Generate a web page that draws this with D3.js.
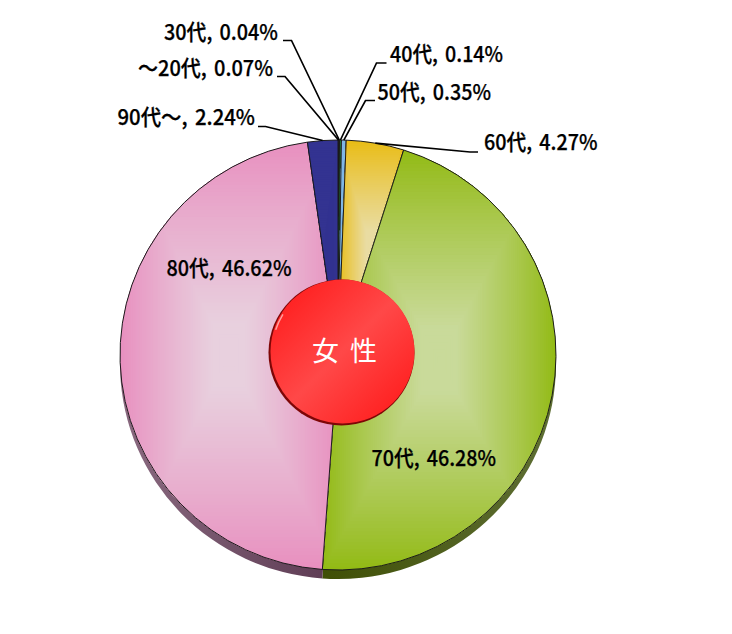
<!DOCTYPE html>
<html>
<head>
<meta charset="utf-8">
<script src="https://cdn.jsdelivr.net/npm/d3@7"></script>
<style>
html, body { margin: 0; padding: 0; background: #fff; }
svg { display: block; }
text { font-family: "Noto Sans CJK JP", sans-serif; }
</style>
</head>
<body>
<div id="chart"></div>
<script>
/* data, clockwise from 12 o'clock */
var ages = ["～20代", "30代", "40代", "50代", "60代", "70代", "80代", "90代～"];
var shares = [0.07, 0.04, 0.14, 0.35, 4.27, 46.28, 46.62, 2.24];
var centerLabel = "女 性";

/* colours */
var edgeColors = ["#6a2a80", "#1a1a1a", "#1f8a3a", "#7fb6e6", "#e9bc14", "#92ba14", "#e88fbf", "#333391"];
var midColors = ["#6a2a80", "#1a1a1a", "#1f8a3a", "#7fb6e6", "#e9dca2", "#c9da9a", "#e8d0de", "#333391"];
var sideLeft = ["#333", "#333", "#333", "#333", "#5c4a10", "#3f4f05", "#8a6a80", "#22224a"];
var sideRight = ["#333", "#333", "#333", "#333", "#5c4a10", "#5f6f35", "#5c3a52", "#22224a"];

/* label placement: text x, baseline, width, leader elbow and stub end */
var labelX = [138, 164, 390, 377.5, 484, 371.5, 166.5, 117.5];
var labelY = [76, 40, 62, 100, 150, 466, 276, 125];
var labelW = [135, 114, 113, 113.5, 113.5, 124.5, 125, 137.5];
var elbowX = [285, 291.5, 376.5, 365.5, 470, null, null, 265.5];
var elbowY = [76.5, 40.5, 63, 100.5, 152, null, null, 126.5];
var stubX = [277, 283, 386.5, 375, 478, null, null, 258];

var width = 732, height = 634;
var cx = 338, cy = 355, rx = 218, ry = 215, depth = 9;

var svg = d3.select("#chart").append("svg")
  .attr("width", width)
  .attr("height", height);
var defs = svg.append("defs");

var pie = d3.pie().sort(null).value(d => d)(shares);
var arc = d3.arc().innerRadius(0).outerRadius(rx);
var yScale = ry / rx;
var pieTransform = "translate(" + cx + "," + cy + ") scale(1," + yScale + ")";

/* side wall */
pie.forEach(function (d, i) {
  var g = defs.append("linearGradient").attr("id", "side" + i);
  g.append("stop").attr("offset", 0).attr("stop-color", sideLeft[i]);
  g.append("stop").attr("offset", 1).attr("stop-color", sideRight[i]);
});
svg.append("g")
  .attr("transform", "translate(" + cx + "," + (cy + depth) + ") scale(1," + yScale + ")")
  .selectAll("path")
  .data(pie)
  .enter().append("path")
  .attr("d", arc)
  .attr("fill", (d, i) => "url(#side" + i + ")");

/* slices: Excel style box gradient, nested rects clipped to each wedge */
var pieG = svg.append("g").attr("transform", pieTransform);
var steps = 60;

pie.forEach(function (d, i) {
  defs.append("clipPath").attr("id", "clip" + i)
    .append("path").attr("d", arc(d));

  var outline = pieG.append("path").attr("d", arc(d)).attr("fill", "none");
  var box = outline.node().getBBox();
  var color = d3.interpolateRgb(edgeColors[i], midColors[i]);

  pieG.append("g")
    .attr("clip-path", "url(#clip" + i + ")")
    .selectAll("rect")
    .data(d3.range(steps))
    .enter().append("rect")
    .attr("x", s => box.x + box.width / 2 * s / steps)
    .attr("y", s => box.y + box.height / 2 * s / steps)
    .attr("width", s => box.width * (1 - s / steps))
    .attr("height", s => box.height * (1 - s / steps))
    .attr("fill", s => color(Math.min(1, 1.15 * Math.pow(s / (steps - 1), 0.9))));

  outline.raise();
  outline.attr("stroke", "#1a1a1a").attr("stroke-width", 1);
});

/* leader lines */
var leader = d3.line();
pie.forEach(function (d, i) {
  if (elbowX[i] == null) return;
  var a = (d.startAngle + d.endAngle) / 2;
  var end = [cx + rx * Math.sin(a), cy - ry * Math.cos(a)];
  svg.append("path")
    .attr("d", leader([[stubX[i], elbowY[i]], [elbowX[i], elbowY[i]], end]))
    .attr("fill", "none")
    .attr("stroke", "#000")
    .attr("stroke-width", 1.7);
});

/* labels */
svg.append("g").selectAll("text")
  .data(ages)
  .enter().append("text")
  .attr("x", (d, i) => labelX[i])
  .attr("y", (d, i) => labelY[i])
  .attr("textLength", (d, i) => labelW[i])
  .attr("lengthAdjust", "spacingAndGlyphs")
  .attr("font-size", 21.5)
  .attr("font-weight", 500)
  .attr("word-spacing", 3)
  .attr("fill", "#000")
  .attr("stroke", "#000")
  .attr("stroke-width", 0.25)
  .text((d, i) => d + ", " + shares[i].toFixed(2) + "%");

/* centre button */
var red = defs.append("linearGradient").attr("id", "red")
  .attr("x1", "0.1").attr("y1", "0.1").attr("x2", "0.9").attr("y2", "0.9");
red.append("stop").attr("offset", 0).attr("stop-color", "#ff1f1f");
red.append("stop").attr("offset", 0.5).attr("stop-color", "#ff4848");
red.append("stop").attr("offset", 1).attr("stop-color", "#ff1f1f");

svg.append("circle")
  .attr("cx", 341.5).attr("cy", 352.5).attr("r", 73)
  .attr("fill", "#7e0606");
svg.append("circle")
  .attr("cx", 342.5).attr("cy", 351.5).attr("r", 72)
  .attr("fill", "url(#red)");

/* small highlight on the button rim */
svg.append("path")
  .attr("transform", "translate(342.5,351.5)")
  .attr("d", d3.arc().innerRadius(69.5).outerRadius(71)
    .startAngle(-72 * Math.PI / 180).endAngle(-58 * Math.PI / 180)())
  .attr("fill", "#ff9f9f");

svg.append("text")
  .attr("x", 312)
  .attr("y", 361)
  .attr("textLength", 65)
  .attr("font-size", 27)
  .attr("fill", "#fff")
  .text(centerLabel);
</script>
</body>
</html>
